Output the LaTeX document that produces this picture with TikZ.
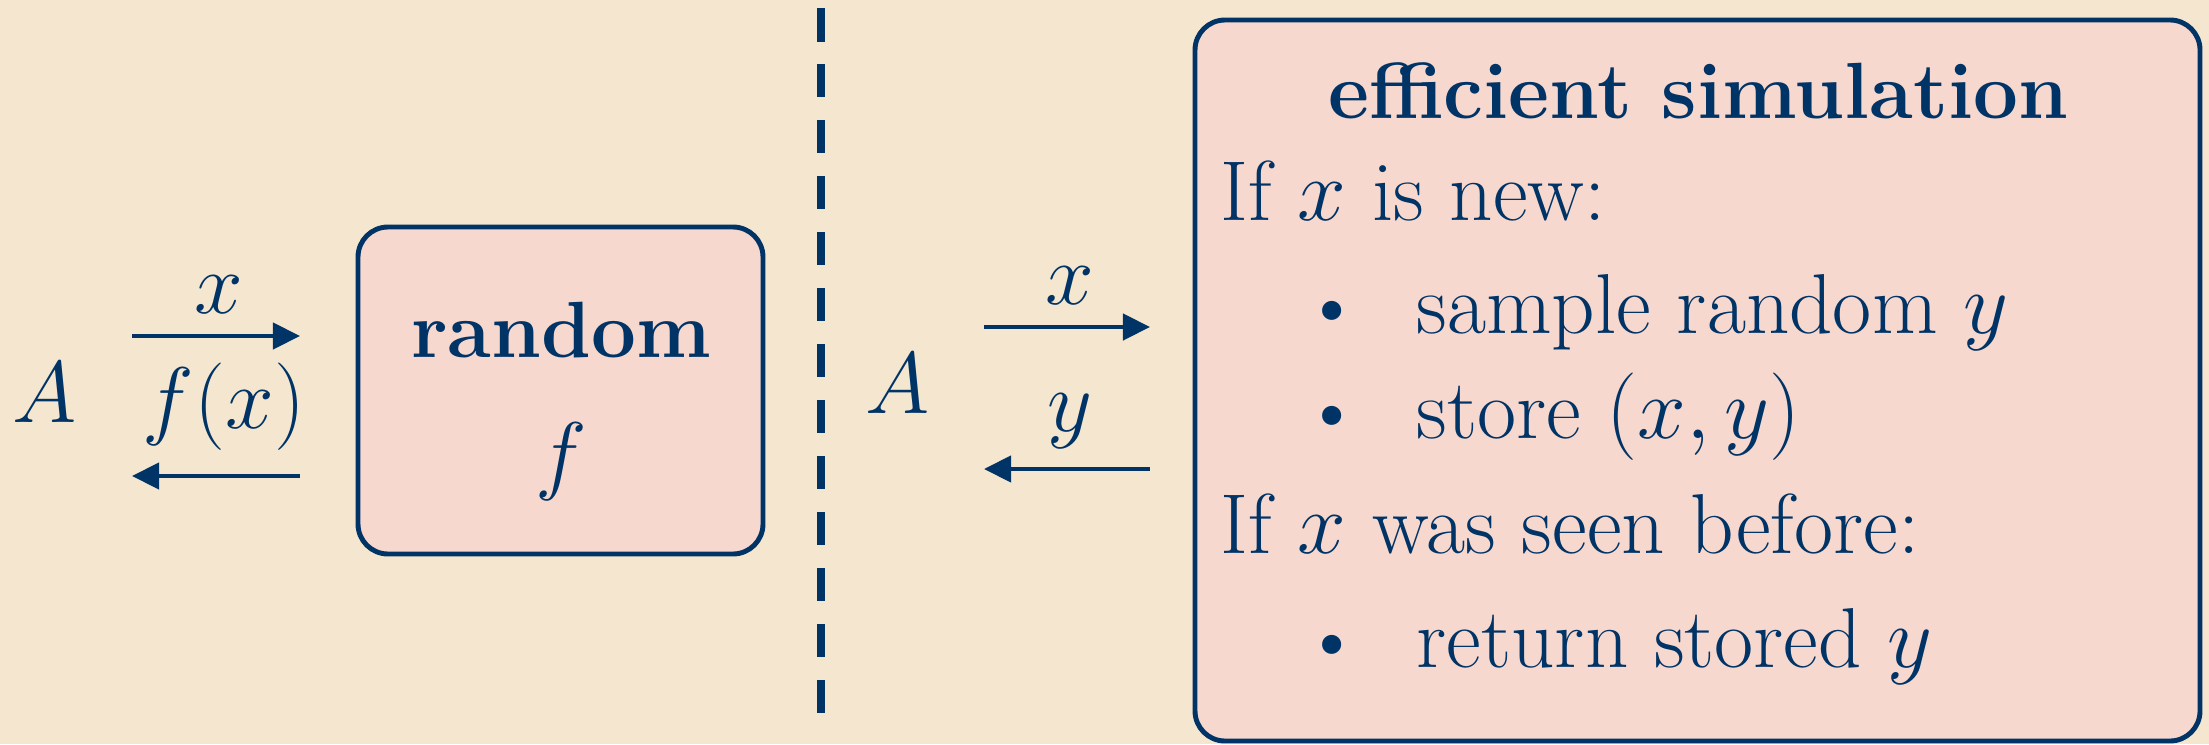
\documentclass[tikz,border=0pt]{standalone}
\usetikzlibrary{arrows.meta}

\definecolor{navy}{HTML}{003366}
\definecolor{paper}{HTML}{F5E6D0}
\definecolor{pinkbox}{HTML}{F7D8CE}
\newcommand{\txtsize}{\fontsize{24.2}{29}\selectfont}
\newcommand{\hdsize}{\fontsize{22.7}{27}\selectfont}

\begin{document}
\begin{tikzpicture}[>={Triangle[length=7.7pt,width=7.4pt]}, font=\txtsize, text=navy, inner sep=0pt,
  oracle/.style={draw=navy, fill=pinkbox, line width=1.4pt, rounded corners=0.3cm},
  msg/.style={->, draw=navy, line width=1.3pt},
  lbl/.style={anchor=base},
  line/.style={anchor=base west}]
  \fill[paper] (0,0) rectangle (22.09,7.44);
  \useasboundingbox (0,0) rectangle (22.09,7.44);

  % --- left: A queries a truly random f ---
  \node[oracle, minimum width=4.05cm, minimum height=3.27cm] (fbox) at (5.605,3.535) {};
  \node[lbl, font=\hdsize\bfseries] (rnd) at (5.61,3.87) {random};
  \node[lbl] (fsym) at (5.61,2.61) {$f$};
  \node[lbl] (advL) at (0.45,3.22) {$A$};
  \coordinate (qL) at (1.32,4.08);
  \coordinate (qR) at (3.00,4.08);
  \coordinate (aR) at (3.00,2.68);
  \coordinate (aL) at (1.32,2.68);
  \draw[msg] (qL) -- (qR);
  \draw[msg] (aR) -- (aL);
  \node[lbl] (qlabL) at (2.19,4.31) {$x$};
  \node[lbl] (alabL) at (2.24,3.16) {$f(x)$};

  % --- separator ---
  \draw[navy, line width=2.3pt, dash pattern=on 9.39pt off 6.54pt] (8.21,7.355) -- (8.21,0.31);

  % --- right: A talks to the lazy simulation ---
  \node[oracle, minimum width=10.05cm, minimum height=7.21cm] (simbox) at (16.975,3.635) {};
  \node[lbl] (advR) at (8.98,3.31) {$A$};
  \coordinate (qL2) at (9.84,4.17);
  \coordinate (qR2) at (11.50,4.17);
  \coordinate (aR2) at (11.50,2.75);
  \coordinate (aL2) at (9.84,2.75);
  \draw[msg] (qL2) -- (qR2);
  \draw[msg] (aR2) -- (aL2);
  \node[lbl] (qlabR) at (10.70,4.40) {$x$};
  \node[lbl] (alabR) at (10.70,3.13) {$y$};

  \node[lbl, font=\hdsize\bfseries] (title) at (16.98,6.26) {efficient simulation};
  \node[line] (isnew) at (12.20,5.24) {If $x$ is new:};
  \node[lbl] (dot1) at (13.32,4.11) {\textbullet};
  \node[line] (sample) at (14.16,4.11) {sample random $y$};
  \node[lbl] (dot2) at (13.32,3.06) {\textbullet};
  \node[line] (store) at (14.16,3.06) {store $(x,y)$};
  \node[line] (isold) at (12.20,1.91) {If $x$ was seen before:};
  \node[lbl] (dot3) at (13.32,0.77) {\textbullet};
  \node[line] (ret) at (14.16,0.77) {return stored $y$};
\end{tikzpicture}
\end{document}
